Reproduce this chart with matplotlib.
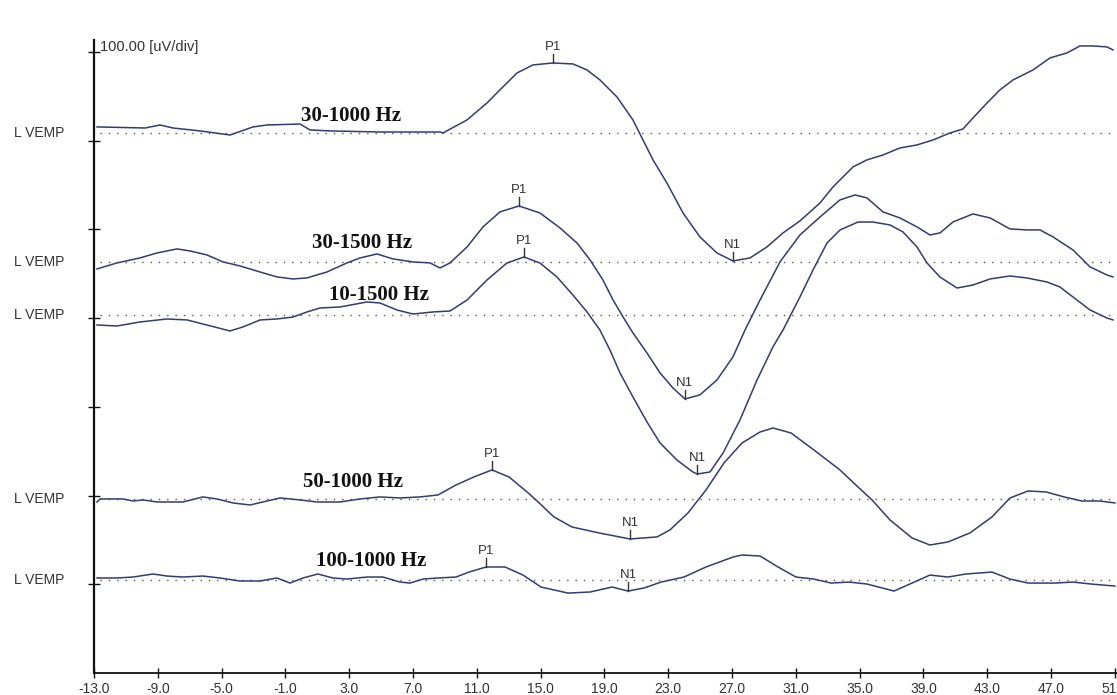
import numpy as np
import matplotlib
matplotlib.use("Agg")
import matplotlib.pyplot as plt

# ---------------- data (time in ms, amplitude in uV relative to each baseline) -------------
ch1_t = [-12.81, -9.80, -8.86, -8.05, -6.35, -5.41, -4.47, -3.03, -2.15, -0.08, 0.54, 1.80, 4.93,
         8.69, 8.88, 10.39, 11.64, 12.45, 13.52, 14.52, 15.78, 17.03, 17.91, 18.72, 19.79, 20.79,
         21.23, 22.05, 22.92, 23.93, 24.99, 26.06, 27.06, 28.13, 29.19, 30.20, 31.26, 32.52, 33.33,
         34.59, 35.46, 36.47, 37.53, 38.60, 39.60, 40.67, 41.48, 42.11, 42.99, 43.80, 44.62, 45.87,
         46.94, 48.00, 48.82, 49.63, 50.51, 50.89]
ch1_a = [6.8, 5.6, 9.0, 5.6, 2.3, 0.0, -2.3, 6.8, 9.0, 10.1, 3.4, 2.3, 1.1,
         1.1, 0.0, 14.7, 33.8, 48.5, 67.6, 76.7, 78.9, 77.8, 71.0, 59.8, 40.6, 14.7,
         -1.1, -30.4, -56.4, -90.2, -117.2, -135.3, -144.3, -140.9, -128.5, -112.7, -99.2, -78.9, -60.9,
         -38.3, -30.4, -24.8, -16.9, -13.5, -7.9, 0.0, 4.5, 16.9, 33.8, 48.5, 59.8, 71.0,
         84.6, 90.2, 98.1, 98.1, 97.0, 93.6]

ch2_t = [-12.81, -11.56, -10.12, -9.05, -7.80, -6.98, -5.92, -4.91, -3.85, -2.59, -1.53, -0.52, 0.35,
         1.61, 2.86, 3.68, 4.74, 5.75, 7.00, 8.07, 8.69, 9.32, 10.39, 11.39, 12.45, 13.65, 14.96,
         16.22, 17.28, 18.10, 18.91, 19.54, 20.17, 20.79, 21.67, 22.49, 23.30, 24.05, 24.99, 26.06,
         27.06, 27.82, 28.76, 30.01, 31.26, 32.52, 33.77, 34.71, 35.46, 36.47, 37.53, 38.60, 39.41,
         40.04, 40.86, 42.11, 43.18, 44.43, 45.50, 46.31, 47.13, 48.38, 49.45, 50.51, 50.89]
ch2_a = [-7.9, -1.1, 4.5, 10.1, 14.7, 12.4, 7.9, 0.0, -4.5, -11.3, -16.9, -19.2, -18.0,
         -11.3, -1.1, 4.5, 9.0, 3.4, 0.0, -1.1, -6.8, -1.1, 16.9, 39.5, 56.4, 63.1, 55.2,
         38.3, 21.4, 2.3, -20.3, -42.8, -62.0, -80.0, -102.6, -125.1, -142.1, -154.5, -149.9, -133.0,
         -107.1, -76.7, -42.8, 0.0, 30.4, 50.7, 69.9, 75.5, 72.2, 56.4, 49.6, 39.5, 30.4,
         32.7, 45.1, 54.1, 49.6, 37.2, 36.1, 36.1, 28.2, 13.5, -5.6, -14.7, -16.9]

ch3_t = [-12.81, -11.56, -10.12, -8.42, -7.17, -5.92, -4.47, -3.66, -2.59, -1.53, -0.52, 0.35, 1.17,
         2.42, 4.12, 4.93, 6.00, 7.00, 8.25, 9.32, 10.39, 11.64, 12.89, 13.96, 14.96, 16.03, 17.03,
         17.91, 18.72, 19.35, 19.98, 20.79, 21.67, 22.49, 23.55, 24.55, 24.81, 25.62, 26.44, 27.50,
         28.57, 29.57, 30.20, 31.26, 32.08, 32.96, 33.77, 34.90, 35.84, 36.91, 37.72, 38.60, 39.23,
         40.04, 41.11, 42.11, 43.18, 44.43, 45.50, 46.75, 47.56, 48.38, 49.45, 50.51, 50.89]
ch3_a = [-11.3, -12.4, -7.9, -4.5, -5.6, -11.3, -18.0, -13.5, -5.6, -4.5, -2.3, 3.4, 7.9,
         9.0, 14.7, 13.5, 5.6, 1.1, 3.4, 4.5, 16.9, 39.5, 58.6, 65.4, 58.6, 42.8, 22.5,
         3.4, -16.9, -39.5, -65.4, -92.4, -120.6, -144.3, -163.5, -177.0, -179.3, -177.0, -155.6, -118.4,
         -73.3, -35.9, -16.9, 20.3, 50.7, 81.2, 95.8, 104.8, 104.8, 101.5, 93.6, 76.7, 58.6,
         42.8, 30.4, 33.8, 40.6, 44.0, 41.7, 37.2, 31.6, 20.3, 5.6, -3.4, -5.6]

ch4_t = [-12.81, -12.62, -11.18, -10.55, -9.93, -9.05, -7.42, -6.17, -5.29, -4.29, -3.22, -2.15, -1.34,
         -0.08, 0.98, 2.42, 3.68, 4.93, 6.19, 7.44, 8.57, 9.70, 10.82, 11.95, 13.02, 14.15, 14.71,
         15.84, 16.97, 18.66, 20.61, 22.30, 23.11, 24.24, 25.37, 26.50, 27.63, 28.76, 29.57, 30.70,
         32.14, 33.77, 34.90, 35.78, 36.91, 38.29, 39.41, 40.54, 41.92, 43.30, 44.43, 45.56, 46.69,
         47.82, 48.94, 50.07, 51.01]
ch4_a = [-3.4, 0.0, 0.0, -2.3, -1.1, -3.4, -3.4, 2.3, 0.0, -4.5, -6.8, -2.3, 1.1,
         -1.1, -3.4, -3.4, 0.0, 2.3, 1.1, 2.3, 4.5, 15.8, 24.8, 32.7, 24.8, 7.9, -1.1,
         -20.3, -31.6, -38.3, -45.1, -42.8, -34.9, -15.8, 10.1, 40.6, 63.1, 75.5, 80.0, 74.4,
         55.2, 32.7, 13.5, -1.1, -23.7, -44.0, -51.9, -48.5, -38.3, -20.3, 1.1, 9.0, 7.9,
         2.3, -2.3, -2.3, -4.5]

ch5_t = [-12.81, -11.56, -10.55, -9.30, -8.42, -7.42, -6.17, -5.10, -3.85, -2.59, -1.53, -0.71, 0.10,
         1.04, 1.98, 2.86, 4.12, 5.12, 6.19, 6.81, 7.63, 8.57, 9.70, 10.51, 11.58, 12.77, 13.90,
         15.03, 16.72, 18.10, 19.48, 20.48, 21.48, 22.55, 23.99, 25.37, 27.06, 27.63, 28.76, 29.89,
         31.01, 32.14, 33.21, 34.34, 35.46, 37.16, 38.29, 39.41, 40.54, 41.67, 43.30, 44.43, 45.56,
         47.25, 48.38, 49.51, 51.01]
ch5_a = [2.3, 2.3, 3.4, 6.8, 4.5, 3.4, 4.5, 2.3, -1.1, -1.1, 2.3, -3.4, 2.3,
         6.8, 2.3, 1.1, 3.4, 3.4, -2.3, -3.4, 1.1, 2.3, 3.4, 9.0, 14.7, 14.7, 5.6,
         -7.9, -14.7, -13.5, -7.9, -12.4, -9.0, -2.3, 3.4, 14.7, 25.9, 28.2, 27.1, 14.7,
         3.4, 1.1, -3.4, -2.3, -4.5, -12.4, -3.4, 5.6, 3.4, 6.8, 9.0, 1.1, -3.4,
         -3.4, -2.3, -4.5, -6.8]

channel_names = ["L VEMP"] * 5
filter_labels = ["30-1000 Hz", "30-1500 Hz", "10-1500 Hz", "50-1000 Hz", "100-1000 Hz"]
baselines_uv = [608.8, 463.4, 403.6, 196.2, 104.8]       # trace baselines on the display (uV)
p1_latency = [15.78, 13.65, 13.96, 11.95, 11.58]
n1_latency = [27.06, 24.05, 24.81, 20.61, 20.48]
x_ticks = [-13.0, -9.0, -5.0, -1.0, 3.0, 7.0, 11.0, 15.0, 19.0, 23.0, 27.0, 31.0, 35.0, 39.0, 43.0, 47.0, 51.0]
y_ticks = [100, 200, 300, 400, 500, 600, 700]
scale_text = "100.00 [uV/div]"

times = [ch1_t, ch2_t, ch3_t, ch4_t, ch5_t]
amps = [ch1_a, ch2_a, ch3_a, ch4_a, ch5_a]

# filter-label anchor positions (ms, uV on display)
label_pos = [(3.11, 628.0), (3.80, 484.8), (4.87, 426.0), (3.24, 215.3), (4.37, 126.3)]

# ---------------- drawing ----------------
W, H = 1117, 695
fig = plt.figure(figsize=(W / 100, H / 100), dpi=100)
ax = fig.add_axes([94 / W, 22 / H, (W - 94) / W, (673 - 40) / H])
ax.set_xlim(-13.0, 51.14)
ax.set_ylim(0, 713.6)

trace_color = "#353b70"
sans = ["Liberation Sans", "DejaVu Sans"]
serif = ["Liberation Serif", "DejaVu Serif"]

for i in range(5):
    t = np.array(times[i])
    a = np.array(amps[i]) + baselines_uv[i]
    # dotted baseline
    ax.plot([-12.6, 51.14], [baselines_uv[i]] * 2, color="#555555", lw=1.0,
            linestyle=(0, (1, 5)), zorder=1)
    ax.plot(t, a, color=trace_color, lw=1.1, zorder=3, solid_joinstyle="round")
    # peak markers
    for lab, lat in (("P1", p1_latency[i]), ("N1", n1_latency[i])):
        y0 = np.interp(lat, t, a)
        ax.plot([lat, lat], [y0, y0 + 10], color="#333333", lw=1.0, zorder=4)
        ax.text(lat, y0 + 11, lab, ha="center", va="bottom", fontsize=9.5,
                family=sans, color="#333333", zorder=5)
    # filter label
    lx, ly = label_pos[i]
    ax.text(lx, ly, filter_labels[i], ha="center", va="center", fontsize=15,
            fontweight="bold", family=serif, color="#111111")
    # channel name left of the axis, aligned with the baseline
    ax.annotate(channel_names[i], xy=(0, baselines_uv[i]), xycoords=("figure pixels", "data"),
                xytext=(14, 0), textcoords="offset pixels", ha="left", va="center",
                fontsize=10, family=sans, color="#333333", annotation_clip=False)

fig.text(100 / W, 1 - 47 / H, scale_text, ha="left", va="center", fontsize=10.5,
         family=sans, color="#333333")

for s in ("top", "right"):
    ax.spines[s].set_visible(False)
ax.spines["left"].set_linewidth(1.6)
ax.spines["bottom"].set_linewidth(1.3)
ax.spines["left"].set_color("#111111")
ax.spines["bottom"].set_color("#111111")

ax.set_xticks(x_ticks)
ax.set_xticklabels([f"{v:.1f}" for v in x_ticks], family=sans, fontsize=10, color="#333333")
ax.set_yticks(y_ticks)
ax.set_yticklabels([])
ax.tick_params(axis="x", direction="inout", length=7, width=1.0, pad=3, color="#111111")
ax.tick_params(axis="y", direction="inout", length=8, width=1.0, color="#111111")

fig.savefig("out.png", dpi=100)
